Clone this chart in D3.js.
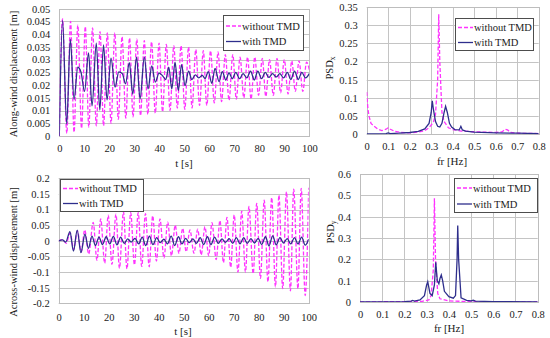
<!DOCTYPE html>
<html><head><meta charset="utf-8">
<script src="https://cdn.jsdelivr.net/npm/d3@7"></script>
<style>
html,body{margin:0;padding:0;background:#fff;}
svg{display:block;font-family:"Liberation Serif","Times New Roman",serif;}
</style></head>
<body><svg id="c" width="550" height="338"></svg>
<script>
// ---------- DATA ----------
const legendLabels = ["without TMD", "with TMD"];
const timeTicks = [0,10,20,30,40,50,60,70,80,90,100];
const freqTicks = [0,0.1,0.2,0.3,0.4,0.5,0.6,0.7,0.8];
const alongTicks = [0,0.005,0.01,0.015,0.02,0.025,0.03,0.035,0.04,0.045,0.05];
const acrossTicks = [-0.2,-0.15,-0.1,-0.05,0,0.05,0.1,0.15,0.2];
const psdxTicks = [0,0.05,0.1,0.15,0.2,0.25,0.3,0.35];
const psdyTicks = [0,0.1,0.2,0.3,0.4,0.5,0.6];

// Along-wind displacement, without TMD (extrema)
const tAlongNo = [0,1.3,3.0,4.5,5.9,7.4,8.9,10.4,11.8,13.3,14.8,16.3,17.7,19.2,20.7,22.2,23.6,25.1,26.6,28.1,29.5,31.0,32.5,34.0,35.4,36.9,38.4,39.9,41.3,42.8,44.3,45.8,47.2,48.7,50.2,51.7,53.1,54.6,56.1,57.6,59.0,60.5,62.0,63.5,64.9,66.4,67.9,69.4,70.8,72.3,73.8,75.3,76.7,78.2,79.7,81.2,82.6,84.1,85.6,87.1,88.5,90.0,91.5,93.0,94.4,95.9,97.4,98.9,100];
const xAlongNo = [0,0.046,0.001,0.045,0.0015,0.0435,0.003,0.043,0.0035,0.0425,0.004,0.041,0.004,0.0405,0.005,0.0405,0.0065,0.039,0.007,0.0385,0.0075,0.038,0.008,0.0375,0.0085,0.037,0.009,0.0365,0.0095,0.036,0.010,0.0355,0.011,0.0355,0.0105,0.035,0.011,0.034,0.012,0.0335,0.012,0.0335,0.013,0.033,0.0135,0.032,0.014,0.032,0.0145,0.031,0.015,0.031,0.0145,0.031,0.016,0.0305,0.0155,0.030,0.016,0.0305,0.017,0.030,0.0165,0.0295,0.0175,0.0295,0.0175,0.029,0.026];
// Along-wind displacement, with TMD
const tAlongTmd = [0,1.3,2.96,4.4,5.9,7.4,8.7,10.1,11.7,13.1,14.8,16.2,17.7,19.1,20.7,22.3,23.8,25.2,26.5,28.0,29.4,30.9,32.3,34.0,35.5,37.0,38.4,39.9,41.2,42.6,43.8,45.0,46.3,47.6,48.9,50.3,51.7,53.0,54.4,55.8,57.2,58.3,59.6,61.0,62.3,63.9,65.2,66.6,67.9,69.2,70.6,72.1,73.5,75.0,76.5,78.0,79.4,80.9,82.4,83.8,85.3,86.8,88.2,89.7,91.2,92.6,94.1,95.6,97.0,98.5,100];
const xAlongTmd = [0,0.0454,0.0047,0.038,0.0144,0.027,0.025,0.0175,0.0326,0.0118,0.0365,0.0102,0.0358,0.0142,0.0306,0.0192,0.0252,0.0245,0.0205,0.0288,0.0165,0.031,0.0145,0.031,0.0185,0.0275,0.0212,0.0247,0.0238,0.0222,0.027,0.0185,0.029,0.0178,0.028,0.0198,0.0255,0.0222,0.024,0.0228,0.0238,0.0226,0.0253,0.0207,0.0266,0.0214,0.0253,0.022,0.0248,0.0225,0.025,0.0225,0.0245,0.0228,0.0255,0.022,0.0255,0.0225,0.025,0.023,0.0245,0.0232,0.0245,0.0228,0.025,0.0222,0.0255,0.0222,0.025,0.0228,0.0245];

// Across-wind displacement, without TMD
const tAcrossNo = [0,1.5,3.0,4.6,6.0,7.5,9.0,10.4,12.0,13.8,15.3,16.8,18.4,19.8,21.3,22.9,24.3,25.9,27.3,28.8,30.3,31.8,33.2,34.7,36.2,37.6,39.1,40.5,42.1,43.6,45.1,46.6,48.1,49.6,51.0,52.5,54.1,55.6,57.0,58.5,60.0,61.3,63.0,64.5,65.9,67.3,68.8,70.2,71.7,73.2,74.7,76.1,77.8,79.2,80.7,82.2,83.7,85.2,86.7,88.1,89.6,91.1,92.7,94.0,95.7,97.0,98.6,100];
const yAcrossNo = [0,0.004,-0.008,0.025,-0.028,0.032,-0.036,0.035,-0.042,0.059,-0.062,0.07,-0.072,0.082,-0.075,0.085,-0.088,0.093,-0.09,0.09,-0.077,0.09,-0.082,0.087,-0.083,0.08,-0.065,0.07,-0.055,0.06,-0.048,0.05,-0.04,0.04,-0.035,0.035,-0.04,0.037,-0.045,0.045,-0.048,0.058,-0.06,0.065,-0.07,0.075,-0.085,0.083,-0.1,0.095,-0.1,0.11,-0.105,0.12,-0.12,0.13,-0.131,0.138,-0.147,0.146,-0.153,0.157,-0.16,0.165,-0.153,0.168,-0.175,0.17];
// Across-wind displacement, with TMD
const tAcrossTmd = [0,1.5,2.8,4.5,5.9,7.4,8.9,10.5,11.9,13.3,14.7,16.1,17.5,19.0,20.4,21.9,23.3,24.8,26.2,27.6,29.0,30.5,32.0,33.4,34.8,36.3,37.7,39.2,40.6,42.1,43.5,45.0,46.4,47.9,49.3,50.8,52.2,53.7,55.1,56.6,58.0,59.5,60.9,62.4,63.8,65.3,66.7,68.2,69.6,71.1,72.5,74.0,75.4,76.9,78.3,79.8,81.2,82.7,84.1,85.6,87.0,88.5,89.9,91.4,92.8,94.3,95.7,97.2,98.6,100];
const yAcrossTmd = [0,0.003,-0.004,0.029,-0.033,0.034,-0.038,0.021,-0.024,0.015,-0.015,0.012,-0.012,0.013,-0.01,0.014,-0.013,0.012,-0.008,0.006,-0.004,0.008,-0.01,0.012,-0.015,0.015,-0.012,0.01,-0.006,0.005,-0.01,0.015,-0.015,0.013,-0.01,0.008,-0.006,0.006,-0.008,0.01,-0.012,0.013,-0.012,0.012,-0.008,0.006,-0.005,0.007,-0.008,0.01,-0.01,0.01,-0.008,0.007,-0.007,0.008,-0.012,0.013,-0.016,0.016,-0.013,0.01,-0.007,0.007,-0.01,0.01,-0.01,0.012,-0.014,0.005];

// PSD_x
const fPsdxNo = [0,0.005,0.01,0.02,0.035,0.05,0.07,0.09,0.1,0.11,0.13,0.16,0.2,0.24,0.27,0.29,0.31,0.32,0.33,0.335,0.34,0.35,0.36,0.38,0.4,0.44,0.5,0.6,0.63,0.645,0.655,0.67,0.7,0.8];
const vPsdxNo = [0.116,0.075,0.052,0.03,0.022,0.015,0.01,0.014,0.018,0.014,0.008,0.005,0.004,0.006,0.01,0.018,0.033,0.055,0.15,0.33,0.2,0.06,0.035,0.018,0.013,0.009,0.007,0.005,0.007,0.014,0.012,0.005,0.003,0.002];
const fPsdxTmd = [0,0.05,0.09,0.1,0.11,0.15,0.2,0.24,0.27,0.29,0.3,0.305,0.31,0.32,0.33,0.34,0.35,0.36,0.367,0.375,0.385,0.395,0.41,0.43,0.435,0.438,0.445,0.46,0.5,0.6,0.7,0.8];
const vPsdxTmd = [0.001,0.001,0.002,0.004,0.002,0.003,0.005,0.008,0.015,0.03,0.06,0.092,0.07,0.035,0.022,0.02,0.03,0.06,0.077,0.06,0.03,0.02,0.013,0.012,0.018,0.022,0.012,0.009,0.006,0.004,0.003,0.002];

// PSD_y
const fPsdyNo = [0,0.1,0.2,0.28,0.31,0.32,0.33,0.335,0.34,0.35,0.36,0.4,0.5,0.6,0.8];
const vPsdyNo = [0.001,0.001,0.002,0.003,0.01,0.03,0.15,0.486,0.2,0.04,0.015,0.005,0.002,0.001,0.001];
const fPsdyTmd = [0,0.1,0.2,0.23,0.237,0.245,0.27,0.29,0.3,0.305,0.315,0.325,0.335,0.341,0.348,0.355,0.36,0.366,0.372,0.38,0.4,0.42,0.43,0.437,0.44,0.444,0.455,0.48,0.5,0.51,0.52,0.6,0.8];
const vPsdyTmd = [0.001,0.001,0.002,0.004,0.007,0.004,0.01,0.03,0.08,0.095,0.04,0.03,0.08,0.186,0.1,0.085,0.11,0.127,0.1,0.05,0.025,0.018,0.03,0.2,0.358,0.2,0.02,0.008,0.005,0.008,0.004,0.002,0.001];

// ---------- DRAW ----------
const svg = d3.select("#c");
const MAG = "#ff33ff", BLUE = "#2e2e8c", GRID = "#c4c4c4", TXT = "#1a1a1a";
const fmt = d => String(+d.toFixed(3));

function zip(a,b){ return a.map((v,i)=>[v,b[i]]); }

function panel(c){
  const x = d3.scaleLinear().domain(c.xd).range(c.xr);
  const y = d3.scaleLinear().domain(c.yd).range(c.yr);
  const g = svg.append("g");
  const id = "clip"+c.name;
  svg.append("defs").append("clipPath").attr("id",id).append("rect")
    .attr("x",c.xr[0]).attr("y",c.yr[1]).attr("width",c.xr[1]-c.xr[0]).attr("height",c.yr[0]-c.yr[1]);
  // grid
  g.selectAll(".hg").data(c.yt).join("line")
    .attr("x1",c.xr[0]).attr("x2",c.xr[1]).attr("y1",d=>Math.round(y(d))+0.5).attr("y2",d=>Math.round(y(d))+0.5)
    .attr("stroke",GRID).attr("stroke-width",1);
  if(c.vgrid){
    g.selectAll(".vg").data(c.xt).join("line")
      .attr("y1",c.yr[0]).attr("y2",c.yr[1]).attr("x1",d=>Math.round(x(d))+0.5).attr("x2",d=>Math.round(x(d))+0.5)
      .attr("stroke",GRID).attr("stroke-width",1);
  }
  g.append("rect").attr("x",Math.round(c.xr[0])+0.5).attr("y",Math.round(c.yr[1])+0.5)
    .attr("width",Math.round(c.xr[1]-c.xr[0])).attr("height",Math.round(c.yr[0]-c.yr[1]))
    .attr("fill","none").attr("stroke","#bdbdbd");
  // axes via d3 axis (tick labels only)
  const ax = g.append("g").attr("transform",`translate(0,${c.yr[0]})`)
    .call(d3.axisBottom(x).tickValues(c.xt).tickFormat(fmt).tickSize(0).tickPadding(c.xpad));
  const ay = g.append("g").attr("transform",`translate(${c.xr[0]},0)`)
    .call(d3.axisLeft(y).tickValues(c.yt).tickFormat(fmt).tickSize(0).tickPadding(c.ypad));
  [ax,ay].forEach(a=>{ a.select(".domain").remove();
    a.selectAll("text").attr("font-family","Liberation Serif, serif").attr("font-size","10.5px").attr("fill",TXT); });
  // series
  const line = d3.line().x(d=>x(d[0])).y(d=>y(d[1])).curve(c.curve);
  const sg = g.append("g").attr("clip-path",`url(#${id})`);
  sg.append("path").datum(c.s1).attr("d",line).attr("fill","none")
    .attr("stroke",MAG).attr("stroke-width",1.3).attr("stroke-dasharray","4,2");
  sg.append("path").datum(c.s2).attr("d",line).attr("fill","none")
    .attr("stroke",BLUE).attr("stroke-width",1.3);
  // titles
  g.append("text").attr("x",c.xtitle[0]).attr("y",c.xtitle[1]).attr("text-anchor","middle")
    .attr("font-size","11px").attr("fill",TXT).text(c.xlabel);
  const yt = g.append("text").attr("transform",`translate(${c.ytitle[0]},${c.ytitle[1]}) rotate(-90)`)
    .attr("text-anchor","middle").attr("font-size",c.ysize).attr("fill",TXT);
  yt.append("tspan").text(c.ylabel);
  if(c.ysub) yt.append("tspan").attr("font-size","7.5px").attr("dy","2").text(c.ysub);
  // legend
  const L = c.leg;
  g.append("rect").attr("x",L[0]+0.5).attr("y",L[1]+0.5).attr("width",L[2]).attr("height",L[3])
    .attr("fill","#fff").attr("stroke","#4d4d4d");
  const rows = [{c:MAG,dash:"4,2"},{c:BLUE,dash:null}];
  rows.forEach((r,i)=>{
    const yy = L[1]+c.legRow0+i*c.legStep;
    g.append("line").attr("x1",L[0]+3).attr("x2",L[0]+18).attr("y1",yy).attr("y2",yy)
      .attr("stroke",r.c).attr("stroke-width",1.3).attr("stroke-dasharray",r.dash);
    g.append("text").attr("x",L[0]+19).attr("y",yy+3.8).attr("font-size","10.5px").attr("fill",TXT).text(legendLabels[i]);
  });
}

panel({name:"a", xd:[0,100], xr:[59.3,309.3], yd:[0,0.05], yr:[136,8.7], xt:timeTicks, yt:alongTicks,
  vgrid:false, curve:d3.curveMonotoneX, s1:zip(tAlongNo,xAlongNo), s2:zip(tAlongTmd,xAlongTmd),
  xpad:9, ypad:9, xlabel:"t [s]", xtitle:[184,167], ylabel:"Along-wind displacement [m]", ytitle:[17,74], ysize:"10.5px",
  leg:[223,15,80,35], legRow0:11, legStep:15.5});
panel({name:"b", xd:[0,0.8], xr:[366.7,538.7], yd:[0,0.35], yr:[134.3,7], xt:freqTicks, yt:psdxTicks,
  vgrid:true, curve:d3.curveLinear, s1:zip(fPsdxNo,vPsdxNo), s2:zip(fPsdxTmd,vPsdxTmd),
  xpad:8, ypad:9, xlabel:"fr [Hz]", xtitle:[452,164.5], ylabel:"PSD", ysub:"x", ytitle:[333,68], ysize:"10.5px",
  leg:[455,18,78,32], legRow0:9.5, legStep:15});
panel({name:"c", xd:[0,100], xr:[58.7,308.7], yd:[-0.2,0.2], yr:[303.3,178.3], xt:timeTicks, yt:acrossTicks,
  vgrid:false, curve:d3.curveMonotoneX, s1:zip(tAcrossNo,yAcrossNo), s2:zip(tAcrossTmd,yAcrossTmd),
  xpad:10, ypad:9, xlabel:"t [s]", xtitle:[183,334.5], ylabel:"Across-wind displacement [m]", ytitle:[17,252], ysize:"10.5px",
  leg:[60,179,83,32], legRow0:9.5, legStep:15});
panel({name:"d", xd:[0,0.8], xr:[360,537.7], yd:[0,0.6], yr:[302,174], xt:freqTicks, yt:psdyTicks,
  vgrid:true, curve:d3.curveLinear, s1:zip(fPsdyNo,vPsdyNo), s2:zip(fPsdyTmd,vPsdyTmd),
  xpad:9, ypad:9, xlabel:"fr [Hz]", xtitle:[449,332], ylabel:"PSD", ysub:"y", ytitle:[334,232], ysize:"10.5px",
  leg:[454,178,83,34], legRow0:10, legStep:16});
</script></body></html>
